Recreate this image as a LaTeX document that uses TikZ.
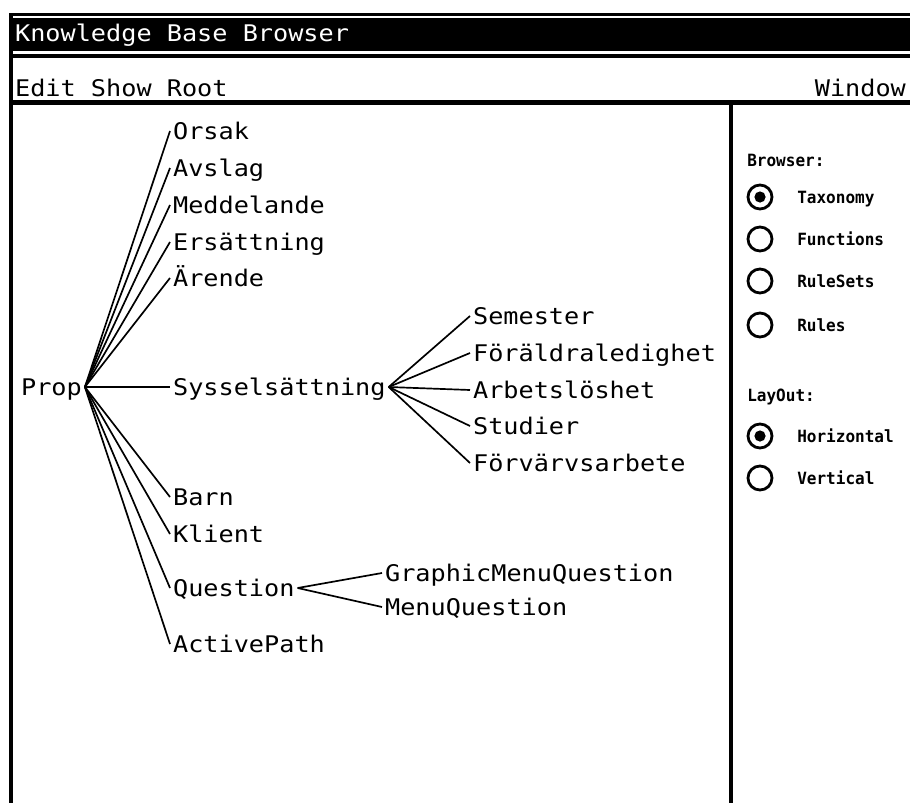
\documentclass[tikz,border=0pt]{standalone}
\usepackage{fontspec}
\usepackage{tikz}
\newfontfamily\uifont[FakeStretch=1.1]{DejaVu Sans Mono}
\newfontfamily\panelfont[FakeStretch=0.95]{DejaVu Sans Mono}

\tikzset{
  kb/.style={anchor=west, inner sep=2pt, font=\uifont\fontsize{16.3}{18}\selectfont,
    text height=11.7pt, text depth=0pt},
  link/.style={line width=1.2pt},
  panel/.style={anchor=west, inner sep=0pt, font=\panelfont\bfseries\fontsize{12}{14}\selectfont,
    text height=8.8pt, text depth=0pt},
  radio/.style={circle, draw, line width=2pt, minimum size=0.6cm, inner sep=0pt},
  radiodot/.style={circle, fill, minimum size=0.28cm, inner sep=0pt},
}

\begin{document}
\begin{tikzpicture}[x=0.025cm, y=-0.025cm]
  \useasboundingbox (0,0) rectangle (910,803);
  % window frame
  \fill (9,13) rectangle (910,16);
  \fill (9,18) rectangle (910,51);
  \fill (9,54) rectangle (910,58);
  \fill (9,100) rectangle (910,105);
  \fill (9,13) rectangle (13,803);
  \fill (729,100) rectangle (733,803);
  \node[kb, text=white] (title) at (12,33) {Knowledge Base Browser};
  \node[kb] (menu) at (12,88) {Edit Show Root};
  \node[kb, anchor=east] (window) at (909,88) {Window};

  % taxonomy tree
  \node[kb] (prop) at (18,387) {Prop};
  \node[kb] (orsak) at (170,131) {Orsak};
  \node[kb] (avslag) at (170,168) {Avslag};
  \node[kb] (meddelande) at (170,205) {Meddelande};
  \node[kb] (ersattning) at (170,242) {Ersättning};
  \node[kb] (arende) at (170,278) {Ärende};
  \node[kb] (syssel) at (170,387) {Sysselsättning};
  \node[kb] (barn) at (170,497) {Barn};
  \node[kb] (klient) at (170,534) {Klient};
  \node[kb] (question) at (170,588) {Question};
  \node[kb] (activepath) at (170,644) {ActivePath};
  \node[kb] (semester) at (470,316) {Semester};
  \node[kb] (foraldra) at (470,353) {Föräldraledighet};
  \node[kb] (arbetslos) at (470,390) {Arbetslöshet};
  \node[kb] (studier) at (470,426) {Studier};
  \node[kb] (forvarv) at (470,463) {Förvärvsarbete};
  \node[kb] (graphicmq) at (382,573) {GraphicMenuQuestion};
  \node[kb] (menuq) at (382,607) {MenuQuestion};
  \draw[link] (prop.east) -- (orsak.west);
  \draw[link] (prop.east) -- (avslag.west);
  \draw[link] (prop.east) -- (meddelande.west);
  \draw[link] (prop.east) -- (ersattning.west);
  \draw[link] (prop.east) -- (arende.west);
  \draw[link] (prop.east) -- (syssel.west);
  \draw[link] (prop.east) -- (barn.west);
  \draw[link] (prop.east) -- (klient.west);
  \draw[link] (prop.east) -- (question.west);
  \draw[link] (prop.east) -- (activepath.west);
  \draw[link] (syssel.east) -- (semester.west);
  \draw[link] (syssel.east) -- (foraldra.west);
  \draw[link] (syssel.east) -- (arbetslos.west);
  \draw[link] (syssel.east) -- (studier.west);
  \draw[link] (syssel.east) -- (forvarv.west);
  \draw[link] (question.east) -- (graphicmq.west);
  \draw[link] (question.east) -- (menuq.west);

  % browser options
  \node[panel] (browserhd) at (747,160) {Browser:};
  \node[radio] (rtax) at (760,197) {};
  \node[radiodot] (rtaxdot) at (rtax) {};
  \node[panel] (taxonomy) at (797,197) {Taxonomy};
  \node[radio] (rfun) at (760,239) {};
  \node[panel] (functions) at (797,239) {Functions};
  \node[radio] (rrs) at (760,281) {};
  \node[panel] (rulesets) at (797,281) {RuleSets};
  \node[radio] (rrul) at (760,325) {};
  \node[panel] (rules) at (797,325) {Rules};
  \node[panel] (layouthd) at (747,395) {LayOut:};
  \node[radio] (rhor) at (760,436) {};
  \node[radiodot] (rhordot) at (rhor) {};
  \node[panel] (horizontal) at (797,436) {Horizontal};
  \node[radio] (rver) at (760,478) {};
  \node[panel] (vertical) at (797,478) {Vertical};
\end{tikzpicture}
\end{document}
